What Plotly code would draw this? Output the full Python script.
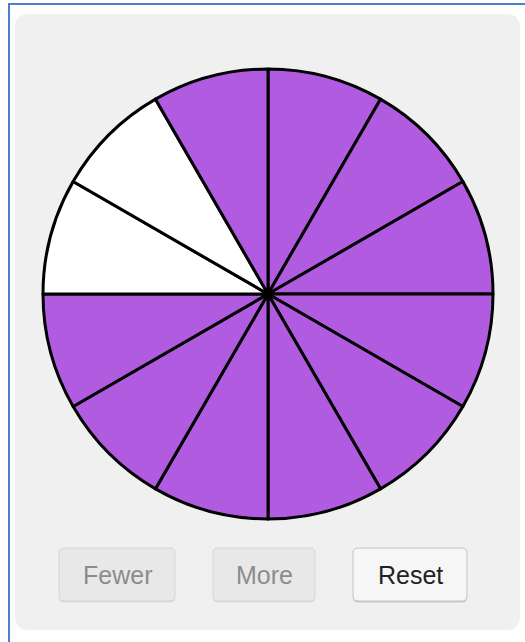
import plotly.graph_objects as go

# ---- data ----
slice_values = [1] * 12                      # 12 equal parts
slice_filled = [True] * 9 + [False, False] + [True]   # clockwise from 12 o'clock
button_labels = ["Fewer", "More", "Reset"]
button_enabled = [False, False, True]

PURPLE = "#b15be1"
W, H = 525, 642

colors = [PURPLE if f else "#ffffff" for f in slice_filled]

fig = go.Figure()

# pie centred at (268, 294) px, radius 225
cx, cy, r = 268, 294, 225
fig.add_trace(go.Pie(
    values=slice_values,
    sort=False,
    direction="clockwise",
    rotation=0,
    marker=dict(colors=colors, line=dict(color="#000000", width=3)),
    textinfo="none",
    hoverinfo="skip",
    showlegend=False,
    domain=dict(x=[(cx - r) / W, (cx + r) / W], y=[1 - (cy + r) / H, 1 - (cy - r) / H]),
))

shapes = []
# outer blue frame (top & left)
shapes.append(dict(type="rect", xref="x", yref="y", x0=8, x1=525, y0=3, y1=5,
                   fillcolor="#4a7fcc", line=dict(width=0), layer="below"))
shapes.append(dict(type="rect", xref="x", yref="y", x0=8, x1=10, y0=3, y1=642,
                   fillcolor="#4a7fcc", line=dict(width=0), layer="below"))


def rrect(x0, y0, x1, y1, rad):
    return (f"M {x0+rad} {y0} L {x1-rad} {y0} Q {x1} {y0} {x1} {y0+rad} "
            f"L {x1} {y1-rad} Q {x1} {y1} {x1-rad} {y1} L {x0+rad} {y1} "
            f"Q {x0} {y1} {x0} {y1-rad} L {x0} {y0+rad} Q {x0} {y0} {x0+rad} {y0} Z")


# panel
shapes.append(dict(type="path", xref="x", yref="y", path=rrect(15, 14, 520, 630, 14),
                   fillcolor="#f0f0f0", line=dict(width=0), layer="below"))

# centre dot
shapes.append(dict(type="circle", xref="x", yref="y", x0=cx - 5, x1=cx + 5, y0=cy - 5, y1=cy + 5,
                   fillcolor="#000000", line=dict(width=0), layer="above"))

# buttons
btn_x = [(59, 175), (213, 315), (353, 467)]
by0, by1 = 548, 601
annotations = []
for (x0, x1), lab, en in zip(btn_x, button_labels, button_enabled):
    # shadow
    shapes.append(dict(type="path", xref="x", yref="y", path=rrect(x0, by0 + 1.5, x1, by1 + 1.5, 5),
                       fillcolor="#c8c8c8" if en else "#d8d8d8", line=dict(width=0), layer="below"))
    shapes.append(dict(type="path", xref="x", yref="y", path=rrect(x0, by0, x1, by1, 5),
                       fillcolor="#f6f6f6" if en else "#e8e8e8",
                       line=dict(color="#c4c4c4" if en else "#d6d6d6", width=1), layer="below"))
    annotations.append(dict(x=(x0 + x1) / 2, y=(by0 + by1) / 2, xref="x", yref="y", text=lab,
                            showarrow=False,
                            font=dict(family="Liberation Sans, Arial", size=25,
                                      color="#222222" if en else "#8c8c8c")))

fig.update_layout(
    width=W, height=H,
    margin=dict(l=0, r=0, t=0, b=0),
    paper_bgcolor="#ffffff", plot_bgcolor="rgba(0,0,0,0)",
    xaxis=dict(range=[0, W], visible=False, fixedrange=True),
    yaxis=dict(range=[H, 0], visible=False, fixedrange=True),
    shapes=shapes, annotations=annotations,
    showlegend=False,
)

fig.write_html("out.html", config={"displayModeBar": False},
               post_script="document.body.style.margin='0';document.body.style.overflow='hidden';")
